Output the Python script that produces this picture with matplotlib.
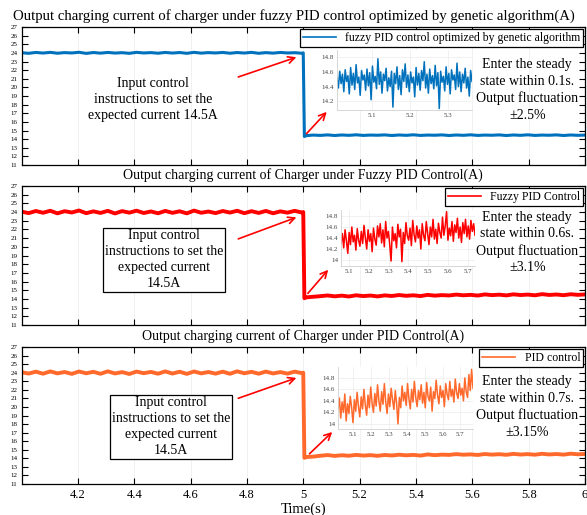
import numpy as np
import matplotlib

matplotlib.use("Agg")

import matplotlib.pyplot as plt

plt.rcParams["font.family"] = ["Liberation Serif", "DejaVu Serif"]

# main traces: level before the command, samples after the command
blue_pre = [24.02, 23.95, 24.05, 23.98, 24.06, 23.96, 24.03, 23.99, 24.07, 23.94,
            24.04, 23.97, 24.05, 23.98, 24.02, 23.95, 24.06, 23.99, 24.03, 23.96,
            24.05, 23.98, 24.04, 23.95, 24.06, 23.97, 24.03, 23.99, 24.05, 23.96,
            24.04, 23.98, 24.06, 23.95, 24.03, 23.97, 24.05, 23.99, 24.02, 23.96]
blue_post = [14.40, 14.47, 14.43, 14.49, 14.42, 14.48, 14.44, 14.50, 14.43, 14.47,
             14.45, 14.49, 14.42, 14.48, 14.44, 14.50, 14.43, 14.47, 14.45, 14.49,
             14.42, 14.48, 14.44, 14.50, 14.43, 14.47, 14.45, 14.49, 14.42, 14.48,
             14.44, 14.50, 14.43, 14.47, 14.45, 14.49, 14.42, 14.48, 14.44, 14.47]

red_pre = [24.05, 23.88, 24.12, 23.92, 24.15, 23.85, 24.10, 23.95, 24.18, 23.87,
           24.08, 23.90, 24.14, 23.84, 24.11, 23.93, 24.16, 23.89, 24.07, 23.86,
           24.13, 23.91, 24.09, 23.85, 24.17, 23.92, 24.06, 23.88, 24.12, 23.94,
           24.15, 23.87, 24.10, 23.90, 24.13, 23.86, 24.08, 23.93, 24.14, 23.95]
red_post = [14.18, 14.25, 14.32, 14.40, 14.30, 14.38, 14.28, 14.42, 14.33, 14.39,
            14.29, 14.41, 14.34, 14.45, 14.36, 14.42, 14.33, 14.47, 14.38, 14.44,
            14.40, 14.50, 14.42, 14.47, 14.39, 14.52, 14.44, 14.49, 14.41, 14.53,
            14.45, 14.50, 14.42, 14.55, 14.46, 14.51, 14.43, 14.54, 14.47, 14.52]

orange_pre = [24.06, 23.90, 24.12, 23.88, 24.15, 23.92, 24.08, 23.86, 24.14, 23.93,
              24.10, 23.87, 24.16, 23.91, 24.07, 23.85, 24.13, 23.94, 24.09, 23.88,
              24.15, 23.90, 24.11, 23.86, 24.14, 23.92, 24.08, 23.89, 24.12, 23.87,
              24.16, 23.93, 24.10, 23.88, 24.13, 23.91, 24.07, 23.89, 24.12, 23.95]
orange_post = [14.15, 14.20, 14.30, 14.38, 14.28, 14.36, 14.30, 14.40, 14.32, 14.37,
               14.29, 14.39, 14.33, 14.42, 14.35, 14.40, 14.32, 14.45, 14.37, 14.43,
               14.40, 14.49, 14.42, 14.46, 14.39, 14.50, 14.43, 14.48, 14.41, 14.52,
               14.44, 14.49, 14.42, 14.53, 14.45, 14.50, 14.43, 14.54, 14.47, 14.51]

# zoomed steady-state samples shown in the insets
blue_zoom = [14.52, 14.38, 14.61, 14.44, 14.57, 14.33, 14.63, 14.47, 14.55, 14.30,
             14.66, 14.42, 14.58, 14.36, 14.70, 14.45, 14.53, 14.28, 14.62, 14.49,
             14.56, 14.35, 14.64, 14.41, 14.59, 14.22, 14.68, 14.46, 14.54, 14.37,
             14.78, 14.43, 14.60, 14.31, 14.57, 14.48, 14.65, 14.34, 14.52, 14.40,
             14.61, 14.12, 14.58, 14.44, 14.67, 14.36, 14.55, 14.29, 14.63, 14.47,
             14.71, 14.39, 14.56, 14.33, 14.60, 14.45, 14.53, 14.26, 14.66, 14.42,
             14.58, 14.35, 14.62, 14.48, 14.74, 14.38, 14.57, 14.31, 14.64, 14.44,
             14.55, 14.37, 14.69, 14.41, 14.59, 14.10, 14.61, 14.46, 14.54, 14.34,
             14.67, 14.43, 14.58, 14.30, 14.63, 14.49, 14.56, 14.36, 14.72, 14.40,
             14.60, 14.33, 14.57, 14.45, 14.65, 14.38, 14.53, 14.27, 14.62, 14.47]
red_zoom = [14.30, 14.48, 14.22, 14.55, 14.35, 14.12, 14.50, 14.28, 14.60, 14.33,
            14.45, 14.18, 14.57, 14.36, 14.25, 14.52, 14.30, 14.63, 14.40, 14.20,
            14.55, 14.34, 14.48, 14.15, 14.58, 14.38, 14.27, 14.62, 14.42, 14.66,
            14.31, 14.55, 14.24, 14.70, 14.40, 14.52, 14.28, 13.98, 14.60, 14.35,
            14.48, 14.22, 14.65, 14.42, 14.56, 13.97, 14.50, 14.30, 14.68, 14.44,
            14.36, 14.58, 14.26, 14.72, 14.46, 14.33, 14.62, 14.40, 14.55, 14.20,
            14.66, 14.45, 14.35, 14.70, 14.48, 14.28, 14.60, 14.42, 14.74, 14.38,
            14.56, 14.30, 14.67, 14.50, 14.40, 14.78, 14.45, 14.62, 14.88, 14.36,
            14.58, 14.44, 14.70, 14.34, 14.64, 14.50, 14.76, 14.40, 14.60, 14.32,
            14.68, 14.48, 14.74, 14.42, 14.62, 14.38, 14.72, 14.52, 14.66, 14.45]
orange_zoom = [14.25, 14.45, 14.10, 14.38, 14.20, 14.52, 14.05, 14.35, 14.18, 14.48,
               14.28, 14.02, 14.42, 14.22, 14.55, 14.30, 14.12, 14.47, 14.26, 14.60,
               14.33, 14.15, 14.50, 14.28, 14.64, 14.36, 14.20, 14.53, 14.31, 14.68,
               14.40, 14.22, 14.56, 14.34, 14.70, 14.38, 14.18, 14.52, 14.30, 14.62,
               14.42, 14.25, 14.58, 14.35, 14.00, 14.46, 14.28, 14.66, 14.40, 14.55,
               14.32, 14.70, 14.44, 14.26, 14.60, 14.38, 14.74, 14.46, 14.30, 14.58,
               14.42, 14.68, 14.36, 14.55, 14.28, 14.72, 14.48, 14.40, 14.64, 14.22,
               14.56, 14.44, 14.76, 14.50, 14.35, 14.66, 14.46, 14.58, 14.30, 14.70,
               14.52, 14.42, 14.74, 14.48, 14.60, 14.38, 14.78, 14.54, 14.44, 14.70,
               14.50, 14.62, 14.40, 14.80, 14.56, 14.46, 14.86, 14.58, 14.95, 14.62]

titles = [
    "Output charging current of charger under fuzzy PID control optimized by genetic algorithm(A)",
    "Output charging current of Charger under Fuzzy PID Control(A)",
    "Output charging current of Charger under PID Control(A)",
]
title_sizes = [10.6, 10, 10]
title_x = [0.484, 0.5, 0.5]
labels = ["fuzzy PID control optimized by genetic algorithm", "Fuzzy PID Control", "PID control"]
colors = ["#0072BD", "#FF0000", "#FF6A2C"]
notes = [
    "Enter the steady\nstate within 0.1s.\nOutput fluctuation\n\u00b12.5%",
    "Enter the steady\nstate within 0.6s.\nOutput fluctuation\n\u00b13.1%",
    "Enter the steady\nstate within 0.7s.\nOutput fluctuation\n\u00b13.15%",
]
cmd_texts = [
    "Input control\ninstructions to set the\nexpected current 14.5A",
    "Input control\ninstructions to set the\nexpected current\n14.5A",
    "Input control\ninstructions to set the\nexpected current\n14.5A",
]
pre_series = [blue_pre, red_pre, orange_pre]
post_series = [blue_post, red_post, orange_post]
zoom_series = [blue_zoom, red_zoom, orange_zoom]
zoom_xlim = [(5.008, 5.363), (5.06, 5.735), (5.016, 5.77)]
zoom_ylim = [(14.08, 14.9), (13.89, 14.91), (13.91, 14.99)]
zoom_yticks = [[14.2, 14.4, 14.6, 14.8], [14, 14.2, 14.4, 14.6, 14.8], [14, 14.2, 14.4, 14.6, 14.8]]
zoom_xticks = [[5.1, 5.2, 5.3], [5.1, 5.2, 5.3, 5.4, 5.5, 5.6, 5.7], [5.1, 5.2, 5.3, 5.4, 5.5, 5.6, 5.7]]

W, H = 587, 515
fig = plt.figure(figsize=(W / 100, H / 100), dpi=100)


def px_rect(left, top, right, bottom):
    return [left / W, 1 - bottom / H, (right - left) / W, (bottom - top) / H]


main_rects = [px_rect(21.5, 27, 585, 165), px_rect(21.5, 186, 585, 325), px_rect(21.5, 347, 585, 484)]
inset_rects = [px_rect(337, 50, 472, 110), px_rect(341, 210, 475, 266), px_rect(338, 367, 473, 429)]
line_widths = [2.2, 2.8, 2.8]

# annotation positions in data coords
cmd_pos = [(4.467, 18.65), (4.507, 18.5), (4.53, 17.66)]
arrow1 = [((4.76, 21.1), (4.985, 23.6)), ((4.76, 20.8), (4.985, 23.5)), ((4.76, 20.9), (4.985, 23.5))]
arrow2 = [((5.005, 14.4), (5.09, 17.4)), ((5.01, 14.4), (5.095, 17.6)), ((5.015, 14.3), (5.11, 17.3))]
note_x = 5.795
note_y = [19.7, 20.5, 20.0]

pre_t = np.linspace(4.0, 4.995, len(blue_pre))
post_t = np.linspace(5.01, 6.0, len(blue_post))

for i in range(3):
    ax = fig.add_axes(main_rects[i])
    t = np.concatenate([pre_t, [5.0, 5.004], post_t])
    y = np.concatenate([pre_series[i], [24.0, post_series[i][0] - 0.1], post_series[i]])
    ax.plot(t, y, color=colors[i], lw=line_widths[i], label=labels[i])
    ax.set_xlim(4.0, 6.0)
    ax.set_ylim(11, 27)
    ax.set_yticks(range(11, 28))
    ax.set_xticks([4.2, 4.4, 4.6, 4.8, 5.0, 5.2, 5.4, 5.6, 5.8, 6.0])
    ax.tick_params(axis="y", direction="in", length=4, width=0.8, labelsize=5, right=True, pad=3)
    ax.tick_params(axis="x", direction="in", length=4, width=0.8, labelsize=9, top=True)
    if i < 2:
        ax.set_xticklabels([])
    else:
        ax.set_xticklabels(["4.2", "4.4", "4.6", "4.8", "5", "5.2", "5.4", "5.6", "5.8", "6"])
        ax.set_xlabel("Time(s)", fontsize=10.5, labelpad=1)
    ax.grid(True, axis="x", color="#ececec", lw=0.5)
    ax.set_yticks([13, 16, 19, 21, 24], minor=True)
    ax.grid(True, axis="y", which="minor", color="#f0f0f0", lw=0.5)
    ax.tick_params(axis="y", which="minor", length=0)
    ax.set_axisbelow(True)
    for sp in ax.spines.values():
        sp.set_linewidth(0.9)
    ax.set_title(titles[i], fontsize=title_sizes[i], pad=5, x=title_x[i])
    leg = ax.legend(loc="upper right", fontsize=8.5, fancybox=False, framealpha=1,
                    edgecolor="black", borderaxespad=0.15, handlelength=2.8,
                    borderpad=0.25, handletextpad=0.8)
    leg.get_frame().set_linewidth(0.9)
    for hl in leg.get_lines():
        hl.set_linewidth(1.2)

    box = None
    if i > 0:
        box = dict(boxstyle="square,pad=0.12", fc="white", ec="black", lw=0.9)
    ax.text(cmd_pos[i][0], cmd_pos[i][1], cmd_texts[i], ha="center", va="center",
            fontsize=10, linespacing=1.3, bbox=box)
    ax.text(note_x, note_y[i], notes[i], ha="center", va="center", fontsize=10, linespacing=1.35)
    for tail, head in (arrow1[i], arrow2[i]):
        ax.annotate("", xy=head, xytext=tail,
                    arrowprops=dict(arrowstyle="->", color="#FF0000", lw=1.2, mutation_scale=12))

    ins = fig.add_axes(inset_rects[i])
    zt = np.linspace(zoom_xlim[i][0], zoom_xlim[i][1], len(zoom_series[i]))
    ins.plot(zt, zoom_series[i], color=colors[i], lw=1.1)
    ins.set_xlim(*zoom_xlim[i])
    ins.set_ylim(*zoom_ylim[i])
    ins.set_xticks(zoom_xticks[i])
    ins.set_yticks(zoom_yticks[i])
    ins.set_yticklabels([f"{v:g}" for v in zoom_yticks[i]])
    ins.tick_params(labelsize=5, length=0, pad=2, colors="#444444")
    ins.grid(True, color="#ececec", lw=0.5)
    for sp in ins.spines.values():
        sp.set_color("#d0d0d0")
        sp.set_linewidth(0.6)
    ins.spines["top"].set_visible(False)
    ins.spines["right"].set_visible(False)

fig.savefig("out.png", dpi=100)
